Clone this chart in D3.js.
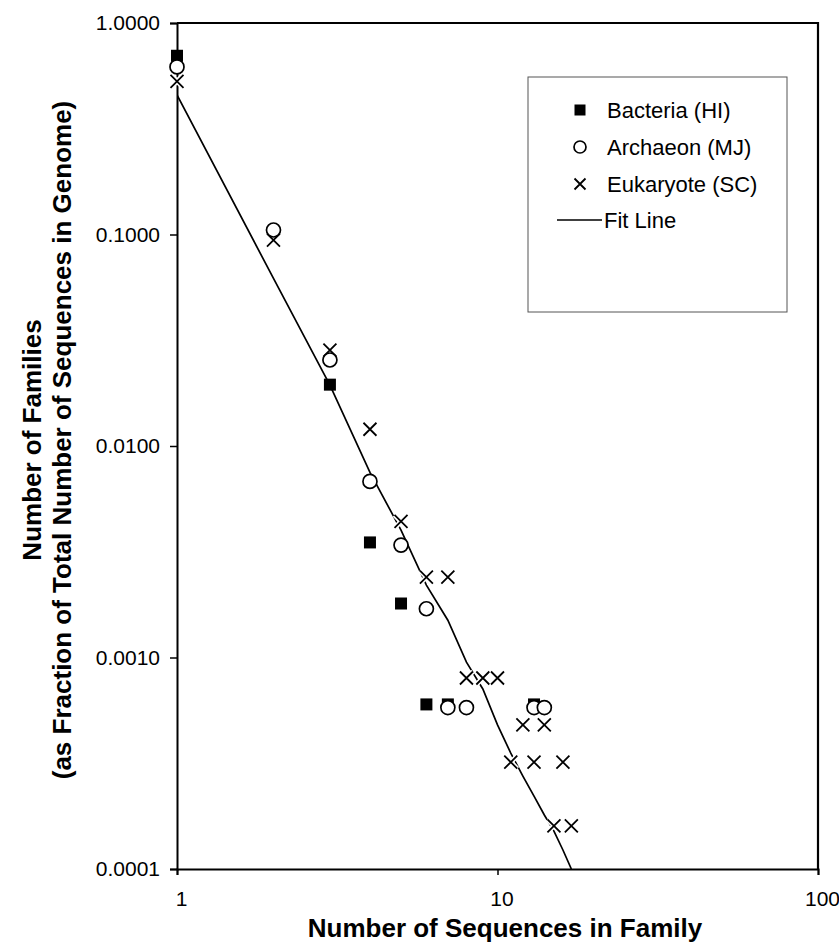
<!DOCTYPE html>
<html>
<head>
<meta charset="utf-8">
<script src="https://cdn.jsdelivr.net/npm/d3@7/dist/d3.min.js"></script>
<style>
  html, body { margin: 0; padding: 0; background: #fff; }
  svg { display: block; }
  text { font-family: "Liberation Sans", Arial, Helvetica, sans-serif; fill: #000; }
</style>
</head>
<body>
<svg id="chart" width="839" height="951"></svg>
<script>
// ---------------- data ----------------
const xTickValues = [1, 10, 100];
const xTickLabels = ["1", "10", "100"];
const yTickValues = [1, 0.1, 0.01, 0.001, 0.0001];
const yTickLabels = ["1.0000", "0.1000", "0.0100", "0.0010", "0.0001"];

const bacteriaX = [1, 3, 4, 5, 6, 7, 13];
const bacteriaY = [0.70, 0.0195, 0.0035, 0.0018, 0.0006, 0.0006, 0.0006];

const archaeonX = [1, 2, 3, 4, 5, 6, 7, 8, 13, 14];
const archaeonY = [0.62, 0.105, 0.0255, 0.0068, 0.0034, 0.0017, 0.00058, 0.00058, 0.00058, 0.00058];

const eukaryoteX = [1, 2, 3, 4, 5, 6, 7, 8, 9, 10, 11, 12, 13, 14, 15, 16, 17];
const eukaryoteY = [0.53, 0.094, 0.0284, 0.012, 0.0044, 0.0024, 0.0024, 0.0008, 0.0008, 0.0008,
                    0.00032, 0.00048, 0.00032, 0.00048, 0.00016, 0.00032, 0.00016];

const fitX = [1, 2, 3, 4, 5, 6, 7, 8, 9, 10, 11, 12, 13, 14, 15, 16, 17];
const fitY = [0.457, 0.062, 0.0194, 0.0075, 0.0040, 0.0022, 0.0015, 0.00095, 0.00071, 0.00048,
              0.000353, 0.000275, 0.000221, 0.00018, 0.000151, 0.000123, 0.0001];

const legendLabels = ["Bacteria (HI)", "Archaeon (MJ)", "Eukaryote (SC)", "Fit Line"];

const xTitle = "Number of Sequences in Family";
const yTitle1 = "Number of Families";
const yTitle2 = "(as Fraction of Total Number of Sequences in Genome)";

// ---------------- layout ----------------
const L = 177, R = 818, T = 23, B = 869;
const svg = d3.select("#chart");

const x = d3.scaleLog().domain([1, 100]).range([L, R]);
const y = d3.scaleLog().domain([0.0001, 1]).range([B, T]);

// axes
const xAxis = svg.append("g")
  .attr("transform", `translate(0,${B})`)
  .call(d3.axisBottom(x).tickValues(xTickValues)
    .tickFormat((d, i) => xTickLabels[i]).tickSizeOuter(0).tickSize(6).tickPadding(24));
const yAxis = svg.append("g")
  .attr("transform", `translate(${L},0)`)
  .call(d3.axisLeft(y).tickValues(yTickValues)
    .tickFormat((d, i) => yTickLabels[i]).tickSizeOuter(0).tickSize(7).tickPadding(10));

[xAxis, yAxis].forEach(g => {
  g.select(".domain").attr("stroke", "#000").attr("stroke-width", 2);
  g.selectAll(".tick line").attr("stroke", "#000").attr("stroke-width", 1.5);
  g.selectAll(".tick text").attr("font-size", 21)
    .attr("font-family", '"Liberation Sans", Arial, sans-serif').attr("fill", "#000");
});
xAxis.selectAll(".tick text").attr("dy", null).attr("dominant-baseline", "auto")
  .attr("transform", "translate(4,7)");

// frame top/right
svg.append("path")
  .attr("d", `M${L},${T}H${R}V${B}`)
  .attr("fill", "none").attr("stroke", "#000").attr("stroke-width", 2.2);

// clip
svg.append("clipPath").attr("id", "plotclip")
  .append("rect").attr("x", L).attr("y", T).attr("width", R - L).attr("height", B - T);

// fit line
const fitData = fitX.map((v, i) => [v, fitY[i]]);
svg.append("path")
  .datum(fitData)
  .attr("clip-path", "url(#plotclip)")
  .attr("fill", "none").attr("stroke", "#000").attr("stroke-width", 1.7)
  .attr("d", d3.line().x(d => x(d[0])).y(d => y(d[1])));

// marker helpers
function drawSquare(g, cx, cy, s) {
  g.append("rect").attr("x", cx - s / 2).attr("y", cy - s / 2)
    .attr("width", s).attr("height", s).attr("fill", "#000");
}
function drawCircle(g, cx, cy, r) {
  g.append("circle").attr("cx", cx).attr("cy", cy).attr("r", r)
    .attr("fill", "#fff").attr("stroke", "#000").attr("stroke-width", 1.7);
}
function drawCross(g, cx, cy, s, halo) {
  const h = s / 2;
  const d = `M${cx - h},${cy - h}L${cx + h},${cy + h}M${cx - h},${cy + h}L${cx + h},${cy - h}`;
  if (halo) g.append("path").attr("d", d).attr("stroke", "#fff").attr("stroke-width", 5);
  g.append("path").attr("d", d).attr("stroke", "#000").attr("stroke-width", 1.8);
}

const marks = svg.append("g");
const bData = bacteriaX.map((v, i) => [v, bacteriaY[i]]);
const aData = archaeonX.map((v, i) => [v, archaeonY[i]]);
const eData = eukaryoteX.map((v, i) => [v, eukaryoteY[i]]);

eData.forEach(d => drawCross(marks, x(d[0]), y(d[1]), 13, true));
bData.forEach(d => drawSquare(marks, x(d[0]), y(d[1]), 12));
aData.forEach(d => drawCircle(marks, x(d[0]), y(d[1]), 7));

// legend
const lg = svg.append("g");
lg.append("rect").attr("x", 528).attr("y", 77).attr("width", 259).attr("height", 235)
  .attr("fill", "#fff").attr("stroke", "#555").attr("stroke-width", 1);
const rowY = [110, 147, 184, 220];
drawSquare(lg, 580, rowY[0], 11);
drawCircle(lg, 580, rowY[1], 6);
drawCross(lg, 580, rowY[2], 11, false);
lg.append("line").attr("x1", 557).attr("x2", 602).attr("y1", rowY[3]).attr("y2", rowY[3])
  .attr("stroke", "#000").attr("stroke-width", 1.6);
legendLabels.forEach((t, i) => {
  lg.append("text").attr("x", i === 3 ? 604 : 607).attr("y", rowY[i])
    .attr("dominant-baseline", "central").attr("font-size", 22).text(t);
});

// titles
svg.append("text").attr("x", 505).attr("y", 937).attr("text-anchor", "middle")
  .attr("font-size", 26).attr("font-weight", "bold").text(xTitle);
svg.append("text").attr("transform", "translate(41,440) rotate(-90)").attr("text-anchor", "middle")
  .attr("font-size", 26).attr("font-weight", "bold").text(yTitle1);
svg.append("text").attr("transform", "translate(71,440) rotate(-90)").attr("text-anchor", "middle")
  .attr("font-size", 26).attr("font-weight", "bold").text(yTitle2);
</script>
</body>
</html>
